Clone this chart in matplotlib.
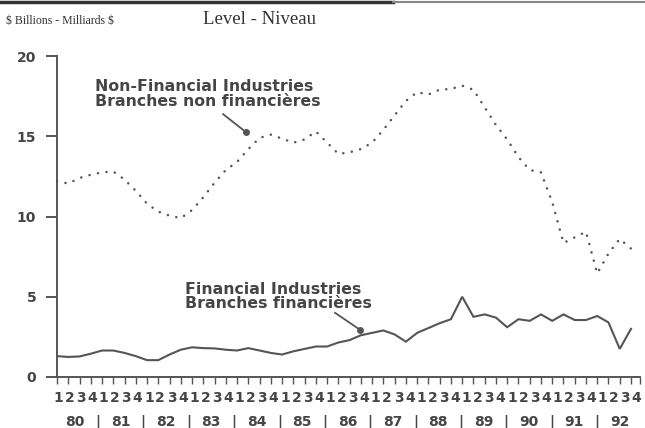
import matplotlib
matplotlib.use("Agg")
import matplotlib.pyplot as plt
from matplotlib.lines import Line2D

years = ["80", "81", "82", "83", "84", "85", "86", "87", "88", "89", "90", "91", "92"]
quarters = ["1", "2", "3", "4"]

non_financial = [12.2, 12.05, 12.4, 12.6, 12.75, 12.8, 12.3, 11.6, 10.8, 10.3, 10.05, 9.9,
                 10.4, 11.2, 12.1, 12.9, 13.4, 14.2, 14.9, 15.1, 14.85, 14.6, 14.8, 15.3,
                 14.6, 13.9, 14.0, 14.2, 14.6, 15.4, 16.3, 17.2, 17.75, 17.6, 17.9, 17.95,
                 18.15, 17.9, 16.8, 15.7, 14.8, 13.7, 12.9, 12.75, 10.9, 8.35, 8.7, 9.05,
                 6.45, 7.7, 8.6, 8.0]
financial = [1.3, 1.25, 1.28, 1.45, 1.65, 1.65, 1.5, 1.3, 1.05, 1.05, 1.4, 1.7,
             1.85, 1.8, 1.78, 1.7, 1.65, 1.8, 1.65, 1.5, 1.4, 1.6, 1.75, 1.9,
             1.9, 2.15, 2.3, 2.6, 2.75, 2.9, 2.65, 2.2, 2.75, 3.05, 3.35, 3.6,
             5.0, 3.75, 3.9, 3.7, 3.1, 3.6, 3.5, 3.9, 3.5, 3.9, 3.55, 3.55,
             3.8, 3.4, 1.75, 3.0]
y_ticks = [0, 5, 10, 15, 20]

TXT = "#454545"
LN = "#555555"
BOLD = "DejaVu Sans"
SERIF = "Liberation Serif"

fig = plt.figure(figsize=(6.45, 4.28), dpi=100)
ax = fig.add_axes([57 / 645, 1 - 377 / 428, 583 / 645, 321 / 428])

n = len(financial)
x = list(range(n))
ax.plot(x, non_financial, color=LN, linewidth=1.8, linestyle=(0, (0.05, 3.4)),
        dash_capstyle="round")
ax.plot(x, financial, color=LN, linewidth=1.5, solid_joinstyle="miter")

ax.set_xlim(0, 51.8)
ax.set_ylim(0, 20)

for s in ["top", "right"]:
    ax.spines[s].set_visible(False)
for s in ["left", "bottom"]:
    ax.spines[s].set_color(LN)
    ax.spines[s].set_linewidth(1.4)

ax.set_yticks(y_ticks)
ax.set_yticklabels([str(v) for v in y_ticks], fontfamily=BOLD, fontweight="bold",
                   fontsize=10, color=TXT)
ax.tick_params(axis="y", direction="out", length=8, width=1.4, color=LN, pad=7)

ax.set_xticks(list(range(n)) + [51.8])
ax.set_xticklabels([""] * (n + 1))
ax.tick_params(axis="x", direction="out", length=5, width=1.0, color=LN)

# quarter digits
qlabels = [quarters[i % 4] for i in range(n)]
for i, q in enumerate(qlabels):
    ax.text(i * 1.008 + 0.1, -1.3, q, ha="center", va="center", fontfamily=BOLD,
            fontweight="bold", fontsize=10, color=TXT, clip_on=False)
# year labels and separators
for k, yr in enumerate(years):
    cx = (4 * k + 1.5) * 1.008 + 0.1
    ax.text(cx, -2.8, yr, ha="center", va="center", fontfamily=BOLD,
            fontweight="bold", fontsize=10, color=TXT, clip_on=False)
    if k > 0:
        ax.text((4 * k - 0.5) * 1.008 + 0.1, -2.8, "|", ha="center", va="center",
                fontfamily=BOLD, fontweight="bold", fontsize=10, color=TXT, clip_on=False)

# annotations
ax.text(3.38, 18.55, "Non-Financial Industries\nBranches non financières", ha="left",
        va="top", fontfamily=BOLD, fontweight="bold", fontsize=11.3, color=TXT,
        linespacing=0.98)
ax.plot([14.76, 16.8], [16.375, 15.25], color=LN, linewidth=1.3)
ax.plot([16.8], [15.25], marker="o", markersize=4, color=LN)

ax.text(11.38, 5.95, "Financial Industries\nBranches financières", ha="left",
        va="top", fontfamily=BOLD, fontweight="bold", fontsize=11.3, color=TXT,
        linespacing=0.98)
ax.plot([24.7, 26.93], [4.0, 2.94], color=LN, linewidth=1.3)
ax.plot([26.93], [2.94], marker="o", markersize=4, color=LN)

# header
fig.add_artist(Line2D([0, 393 / 645], [1 - 1.5 / 428, 1 - 1.5 / 428], color="#333333",
                      linewidth=2.5, transform=fig.transFigure))
fig.add_artist(Line2D([393 / 645, 1], [1 - 1.5 / 428, 1 - 1.5 / 428], color="#888888",
                      linewidth=1.5, transform=fig.transFigure))
fig.text(6 / 645, 1 - 21 / 428, r"\$ Billions - Milliards \$", ha="left", va="center",
         fontfamily=SERIF, fontsize=8.5, color="#333333")
fig.text(203 / 645, 1 - 20 / 428, "Level - Niveau", ha="left", va="center",
         fontfamily=SERIF, fontsize=13.5, color="#333333")

fig.savefig("out.png", dpi=100)
